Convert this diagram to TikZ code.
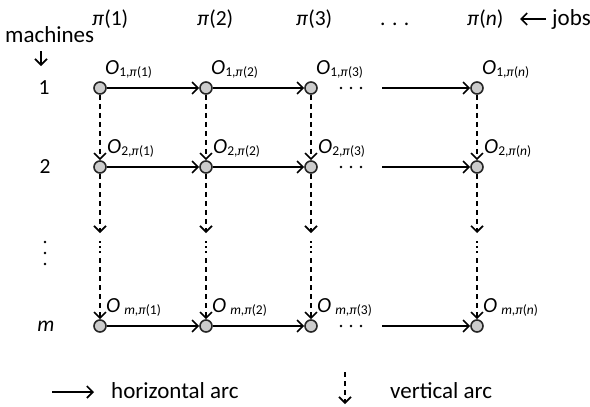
\documentclass[tikz,border=0pt]{standalone}
\usepackage{fontspec}
\setmainfont{Carlito}
\usetikzlibrary{arrows.meta,calc}
% operation label O_{i,pi(j)}
\newcommand\oplab[2]{\textit{O}\raisebox{-2pt}{\fontsize{13.5}{14}\selectfont #1,\textit{π}(#2)}}
\newcommand\oplabm[1]{\textit{O}\hspace{4pt}\raisebox{-2pt}{\fontsize{13.5}{14}\selectfont \textit{m},\textit{π}(#1)}}
\begin{document}
\begin{tikzpicture}[x=1pt,y=-1pt,
  every node/.style={inner sep=0pt, font=\fontsize{21.5}{25}\selectfont},
  word/.style={font=\fontsize{23}{27}\selectfont},
  op/.style={circle, draw=black!85, fill=black!20, line width=1.6pt, minimum size=12pt},
  tipb/.style={-{Straight Barb[length=6pt,width=12pt]}},
  harc/.style={line width=1.6pt, tipb},
  varc/.style={harc, dash pattern=on 5pt off 4pt},
  dotseg/.style={line width=1.6pt, dash pattern=on 1.6pt off 3.4pt},
  lab/.style={anchor=base west},
]
\useasboundingbox (0,0) rectangle (590,407);

% column headers
\node[lab] (h1) at (92,25) {\textit{π}(1)};
\node[lab] (h2) at (197,25) {\textit{π}(2)};
\node[lab] (h3) at (296,25) {\textit{π}(3)};
\node[lab] (hd) at (380,25) {. . .};
\node[lab] (hn) at (467,25) {\textit{π}(\textit{n})};
\node[lab,word] (jobs) at (552,25) {jobs};
\coordinate (ja) at (546,19);
\coordinate (jb) at (520,19);
\draw[line width=1.6pt, tipb] (ja) -- (jb);

% row headers
\node[lab,word] (mach) at (5,42) {machines};
\coordinate (ma) at (41,51);
\coordinate (mb) at (41,66);
\draw[line width=1.6pt, tipb] (ma) -- (mb);
\node (r1) at (44,88) {1};
\node (r2) at (45,167) {2};
\node (rm) at (46,326) {\textit{m}};
\foreach \yy in {242,253,264} \fill (45,\yy) circle (1.3pt);

% operations
\foreach \c/\x in {1/100,2/206,3/311,n/477}{
  \node[op] (a\c) at (\x,88) {};
  \node[op] (b\c) at (\x,167) {};
  \node[op] (c\c) at (\x,326) {};
}

% operation labels
\foreach \c/\t in {1/1,2/2,3/3,n/\textit{n}}{
  \node[lab] at ([shift={(5,-14)}]a\c.center) {\oplab{1}{\t}};
  \node[lab] at ([shift={(7,-14)}]b\c.center) {\oplab{2}{\t}};
  \node[lab] at ([shift={(6,-14)}]c\c.center) {\oplabm{\t}};
}

% horizontal arcs, with an ellipsis between columns 3 and n
\foreach \r/\y in {a/88,b/167,c/326}{
  \draw[harc] (\r1) -- (\r2);
  \draw[harc] (\r2) -- (\r3);
  \foreach \xx in {341,351,361} \fill (\xx,\y) circle (1.3pt);
  \coordinate (\r s) at (382,\y);
  \draw[harc] (\r s) -- (\r n);
}

% vertical arcs, broken by a dotted gap
\foreach \c/\x in {1/100,2/206,3/311,n/477}{
  \draw[varc] (a\c) -- (b\c);
  \coordinate (p\c) at (\x,233);
  \coordinate (q\c) at (\x,241);
  \coordinate (s\c) at (\x,254);
  \coordinate (t\c) at (\x,258);
  \draw[varc] (b\c) -- (p\c);
  \draw[dotseg] (q\c) -- (s\c);
  \draw[varc] (t\c) -- (c\c);
}

% legend
\coordinate (lh1) at (52,392);
\coordinate (lh2) at (94,392);
\draw[harc] (lh1) -- (lh2);
\node[lab,word] (lht) at (111,398) {horizontal arc};
\coordinate (lv1) at (345,372);
\coordinate (lv2) at (345,404);
\draw[varc] (lv1) -- (lv2);
\node[lab,word] (lvt) at (390,398) {vertical arc};
\end{tikzpicture}
\end{document}
